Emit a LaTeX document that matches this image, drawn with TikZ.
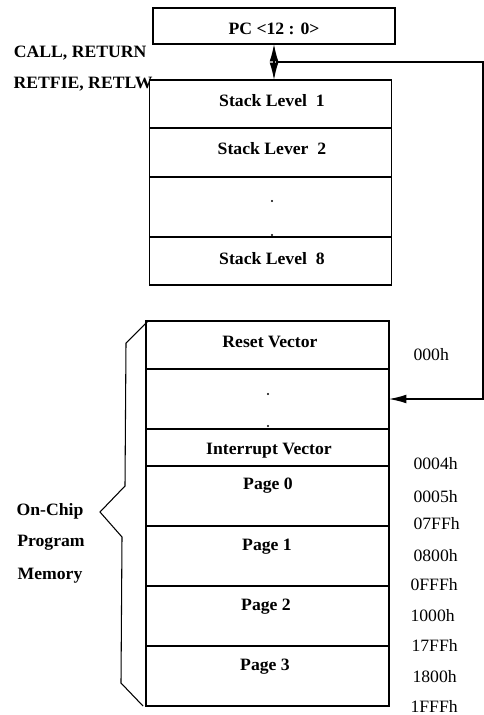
\documentclass[tikz,border=0pt]{standalone}
\usepackage{fontspec}
\setmainfont{Liberation Serif}
\newfontfamily\wideserif{Liberation Serif}[FakeStretch=1.02]
\usetikzlibrary{arrows.meta}
\begin{document}
\begin{tikzpicture}[x=0.75pt,y=-0.75pt,
  line width=0.8pt,
  cell/.style={draw,line width=0.8pt,inner sep=0pt,outer sep=0pt},
  boxtext/.style={font=\wideserif\bfseries\fontsize{13}{15}\selectfont,inner sep=0pt},
  sidetext/.style={font=\wideserif\bfseries\fontsize{13}{15}\selectfont,inner sep=0pt},
  addr/.style={font=\wideserif\fontsize{13}{15}\selectfont,inner sep=0pt,anchor=west},
  >={Latex[length=13pt,width=6.5pt]}]
\useasboundingbox (0,0) rectangle (483,715);

% program counter
\node[cell,minimum width=181.5pt,minimum height=27pt] (pc) at (274,26) {};
\node[boxtext] at (274,29) {PC <12 : 0>};

% stack
\node[cell,minimum width=182pt,minimum height=36pt] (s1) at (270.5,104) {};
\node[cell,minimum width=182pt,minimum height=36.75pt] (s2) at (270.5,152.5) {};
\node[cell,minimum width=182pt,minimum height=45pt] (sd) at (270.5,207) {};
\node[cell,minimum width=182pt,minimum height=36pt] (s8) at (270.5,261) {};
\node[boxtext] at (272,101) {Stack Level\ \ 1};
\node[boxtext] at (272,149) {Stack Lever\ \ 2};
\node[boxtext] at (272,259) {Stack Level\ \ 8};
\fill (272,201) circle (0.9pt);
\fill (272,235) circle (0.9pt);

% instruction labels
\node[sidetext,anchor=east] (call) at (147,53) {CALL, RETURN};
\node[sidetext,anchor=east] (ret) at (153,84) {RETFIE, RETLW};

% memory map
\node[cell,minimum width=182.25pt,minimum height=36pt] (rv) at (267.5,345) {};
\node[cell,minimum width=182.25pt,minimum height=45pt] (md) at (267.5,399) {};
\node[cell,minimum width=182.25pt,minimum height=27.75pt] (iv) at (267.5,447.5) {};
\node[cell,minimum width=182.25pt,minimum height=45pt] (p0) at (267.5,496) {};
\node[cell,minimum width=182.25pt,minimum height=45pt] (p1) at (267.5,556) {};
\node[cell,minimum width=182.25pt,minimum height=45pt] (p2) at (267.5,616) {};
\node[cell,minimum width=182.25pt,minimum height=45pt] (p3) at (267.5,676) {};
\node[boxtext] at (270,342) {Reset Vector};
\fill (268,394) circle (0.9pt);
\fill (268,426) circle (0.9pt);
\node[boxtext] at (269,451) {Interrupt Vector};
\node[boxtext] at (268,486) {Page 0};
\node[boxtext] at (267,547) {Page 1};
\node[boxtext] at (266,607) {Page 2};
\node[boxtext] at (265,667) {Page 3};

% addresses
\node[addr] at (413,355) {000h};
\node[addr] at (413,464) {0004h};
\node[addr] at (413,497) {0005h};
\node[addr] at (413,524) {07FFh};
\node[addr] at (413,556) {0800h};
\node[addr] at (410,585) {0FFFh};
\node[addr] at (410,616) {1000h};
\node[addr] at (411,645) {17FFh};
\node[addr] at (412,677) {1800h};
\node[addr] at (410,706) {1FFFh};

% brace grouping the on-chip memory
\draw[line width=0.8pt,line join=miter] (148,321) -- (126,343) -- (125,486) -- (100,512)
  -- (122,537) -- (121,683) -- (143,706);
\node[sidetext] at (50,511) {On-Chip};
\node[sidetext] at (51,543) {Program};
\node[sidetext] at (50,576) {Memory};

% push/pop between PC and stack
\coordinate (pcb) at (pc.south);
\draw[<->] (pcb) -- (pcb |- s1.north);
% PC fed back to program memory, returning along the right margin
\coordinate (join) at (276,62);
\coordinate (rt) at (483,62);
\coordinate (rb) at (483,399);
\draw[->] (join) -- (rt) -- (rb) -- (md.east |- rb);
\end{tikzpicture}
\end{document}
